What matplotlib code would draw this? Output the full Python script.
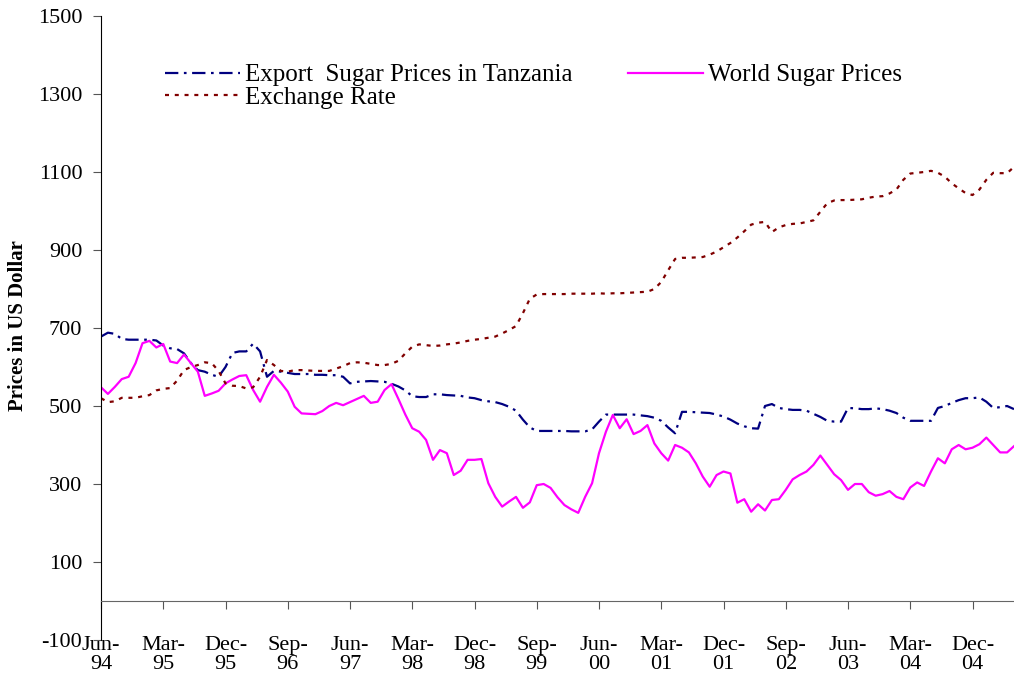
import matplotlib.pyplot as plt
import numpy as np

plt.rcParams['font.family'] = ['Liberation Serif', 'DejaVu Serif']
plt.rcParams['axes.unicode_minus'] = False

# monthly data, Jun-94 .. Jun-05
export_price = [678, 688, 685, 672, 670, 670, 670, 670, 668, 655,
                648, 646, 635, 610, 592, 588, 580, 575, 600, 636,
                640, 640, 660, 640, 575, 590, 588, 585, 582, 582,
                582, 580, 580, 579, 579, 575, 558, 562, 563, 564,
                563, 562, 557, 550, 540, 525, 523, 523, 530, 530,
                528, 527, 526, 522, 520, 515, 512, 510, 505, 498,
                488, 465, 445, 436, 436, 436, 436, 436, 435, 435,
                435, 440, 460, 478, 478, 478, 478, 478, 476, 474,
                470, 462, 445, 430, 485, 485, 484, 483, 482, 478,
                473, 465, 455, 448, 443, 442, 500, 505, 495, 492,
                490, 490, 488, 480, 472, 462, 460, 460, 495, 494,
                492, 492, 494, 492, 488, 482, 470, 462, 462, 462,
                462, 495, 500, 508, 515, 520, 520, 522, 511, 495,
                497, 500, 492]

world_price = [548, 531, 549, 569, 575, 610, 661, 667, 650, 659,
               614, 610, 632, 610, 588, 526, 532, 539, 558, 568,
               577, 579, 541, 511, 549, 580, 560, 537, 498, 481,
               480, 479, 487, 500, 508, 502, 510, 518, 526, 508,
               511, 541, 556, 518, 478, 443, 434, 413, 362, 387,
               379, 323, 334, 362, 362, 364, 302, 267, 242, 255,
               267, 239, 253, 297, 300, 290, 266, 246, 235, 226,
               267, 302, 379, 434, 477, 443, 466, 428, 436, 451,
               404, 379, 360, 400, 393, 381, 353, 319, 293, 323,
               332, 327, 252, 261, 229, 248, 232, 259, 261, 285,
               312, 323, 332, 349, 373, 349, 325, 310, 285, 300,
               300, 279, 270, 274, 282, 267, 261, 291, 304, 295,
               332, 366, 353, 389, 400, 389, 393, 402, 419, 400,
               381, 381, 397]

exchange_rate = [520, 510, 512, 521, 521, 521, 525, 528, 540, 544,
                 546, 565, 592, 600, 605, 612, 610, 590, 558, 552,
                 551, 545, 548, 575, 618, 605, 590, 588, 592, 592,
                 591, 590, 590, 590, 596, 602, 610, 612, 611, 608,
                 605, 605, 608, 616, 635, 652, 658, 656, 654, 655,
                 658, 660, 663, 667, 670, 672, 675, 678, 686, 695,
                 705, 738, 775, 786, 787, 787, 787, 787, 788, 788,
                 788, 788, 789, 788, 789, 789, 790, 791, 792, 793,
                 800, 818, 848, 877, 880, 880, 881, 882, 888, 896,
                 907, 918, 932, 948, 965, 970, 972, 946, 958, 964,
                 967, 968, 972, 976, 998, 1020, 1027, 1028, 1028, 1029,
                 1030, 1034, 1037, 1038, 1045, 1055, 1080, 1096, 1098, 1100,
                 1103, 1098, 1088, 1071, 1058, 1046, 1041, 1055, 1080, 1098,
                 1097, 1097, 1113]

tick_labels = ['Jun-\n94', 'Mar-\n95', 'Dec-\n95', 'Sep-\n96', 'Jun-\n97',
               'Mar-\n98', 'Dec-\n98', 'Sep-\n99', 'Jun-\n00', 'Mar-\n01',
               'Dec-\n01', 'Sep-\n02', 'Jun-\n03', 'Mar-\n04', 'Dec-\n04']

months = np.arange(len(world_price))

fig = plt.figure(figsize=(10.14, 6.75), dpi=100)
ax = fig.add_axes([101 / 1014, 1 - 640 / 675, 1 - 101 / 1014, (640 - 16) / 675])

l1, = ax.plot(months, export_price, color='#000080', lw=1.6,
              dashes=(6, 2.5, 1.2, 2.5), label='Export  Sugar Prices in Tanzania')
l2, = ax.plot(months, world_price, color='#FF00FF', lw=1.6, label='World Sugar Prices')
l3, = ax.plot(months, exchange_rate, color='#800000', lw=1.6,
              dashes=(1.8, 2.6), label='Exchange Rate')

ax.set_xlim(0, 132)
ax.set_ylim(-100, 1500)
ax.set_yticks(range(-100, 1501, 200))
ax.set_xticks(np.arange(0, 132, 9))
ax.set_xticklabels(tick_labels)

ax.spines['top'].set_visible(False)
ax.spines['right'].set_visible(False)
ax.spines['bottom'].set_position(('data', 0))
ax.spines['bottom'].set_color('#666666')
ax.spines['left'].set_color('black')
ax.tick_params(axis='y', labelsize=16, length=6, direction='out', color='#555555', pad=7.5)
ax.tick_params(axis='x', labelsize=16, length=6, direction='out', color='#555555', pad=19)
for lab in ax.get_xticklabels():
    lab.set_linespacing(1.0)

fig.text(18 / 1014, 1 - 326 / 675, 'Prices in US Dollar', rotation=90,
         ha='center', va='center', fontsize=15, fontweight='bold')

fig.legend([l1, l3, l2], [l1.get_label(), l3.get_label(), l2.get_label()],
           loc='upper left', bbox_to_anchor=(165 / 1014, 1 - 64 / 675),
           ncol=2, frameon=False, fontsize=18, handlelength=3.0,
           handletextpad=0.2, columnspacing=2.2, labelspacing=0.0,
           borderpad=0, borderaxespad=0)

fig.savefig('out.png', dpi=100)
